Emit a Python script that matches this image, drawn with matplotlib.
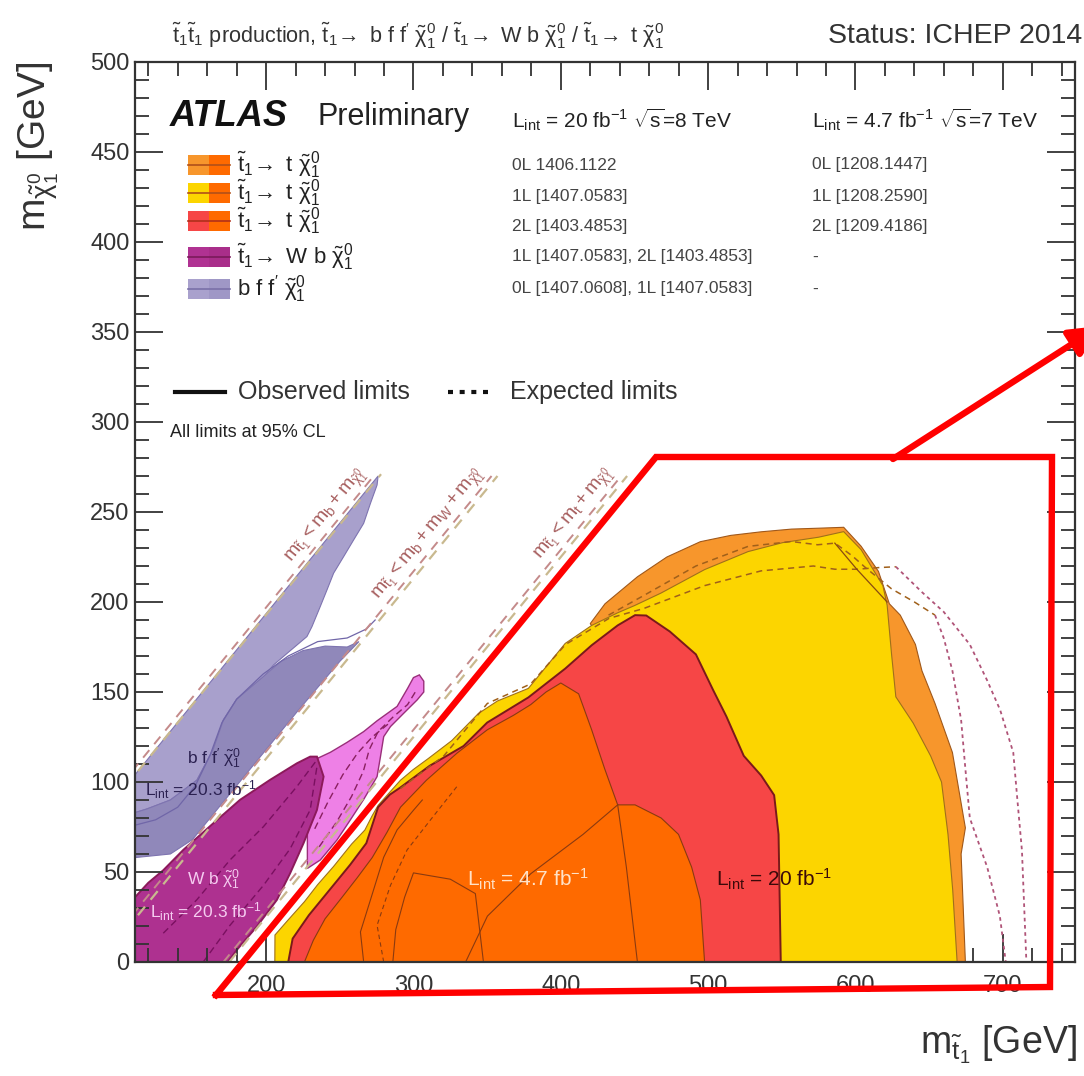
import math
import matplotlib
matplotlib.use("Agg")
import matplotlib.pyplot as plt
from matplotlib.patches import Polygon, Rectangle
from matplotlib.lines import Line2D
from matplotlib.ticker import MultipleLocator

plt.rcParams['font.family'] = ['Liberation Sans', 'DejaVu Sans']
plt.rcParams['mathtext.fontset'] = 'custom'
plt.rcParams['mathtext.rm'] = 'Liberation Sans'
plt.rcParams['mathtext.it'] = 'Liberation Sans'
plt.rcParams['mathtext.bf'] = 'Liberation Sans:bold'

# ---------------- exclusion contours (m_stop, m_LSP) in GeV ----------------
# t~ -> t chi, 0L 8 TeV
t0l_x = [420, 430, 452, 472, 494.7, 515.3, 536.0, 556.6, 575, 592.0, 603.8, 615.6, 623.0,
         630.4, 640.7, 645.1, 654.0, 665.8, 674.6, 671.7, 674.6, 560]
t0l_y = [188, 199, 214, 225, 233.5, 237, 239, 240.5, 241, 241.5, 231, 217, 199,
         192.7, 176.4, 161.8, 143.6, 116.4, 74.5, 60.0, 0, 0]
# t~ -> t chi, 1L 8 TeV
t1l_x = [205.9, 206, 214, 226, 235, 245.7, 258, 267, 272, 276, 284, 291.2, 300, 310, 326, 344,
         357, 378, 391, 403, 421, 438.6, 450, 468.1, 497.6, 527.1, 550.7, 575, 592.0, 603.8,
         618.6, 621.5, 624.5, 627.4, 639.2, 651, 658.4, 662.8, 666, 669]
t1l_y = [0, 15, 22.5, 33.5, 43, 53, 65.5, 73.3, 81.3, 87, 94.4, 101, 107, 113, 123, 138,
         145, 152, 165, 177, 187, 194, 198, 205, 218, 228, 233, 236, 239.1, 229.1,
         209.1, 198.2, 170.9, 147.3, 132.7, 114.5, 100, 70.9, 40, 0]
# t~ -> t chi, 2L 8 TeV
t2l_x = [215, 218, 229, 243, 257, 268, 272, 276, 284, 291.2, 311, 334, 350, 378, 403, 421,
         438.6, 450.4, 458, 474, 491.7, 503.5, 512.4, 524.2, 536, 544.8, 547.8, 549.3]
t2l_y = [0, 13, 26, 40, 54, 66, 76, 86, 93, 97, 109, 120, 133, 147, 163, 176,
         187, 192.7, 192.5, 183.6, 170.9, 150.9, 136.4, 114.5, 103.6, 92.7, 70.9, 0]
# t~ -> t chi, 7 TeV (4.7 fb-1) union
t7_x = [226, 232, 240, 250.6, 262, 272, 282, 291.2, 308.8, 329.5, 350.1, 367.8, 379.6, 390,
        400, 412.1, 420.9, 429.8, 438.6, 450.4, 468.1, 479.9, 488.8, 494.7, 497.6]
t7_y = [0, 12, 24, 35, 47, 58, 72, 86, 101, 116, 129, 137, 143, 150,
        155, 149, 129.1, 107.3, 87.3, 87.3, 80, 70.9, 52.7, 34.5, 0]

# t~ -> W b chi (observed, combined)
wb_x = [111, 111, 120, 130.2, 143.8, 164.2, 182.3, 202.7, 220.9, 229.9, 234.5, 239, 234.5,
        225.4, 216.3, 207.3, 193.7, 180.1, 174]
wb_y = [0, 36, 44, 51, 62.3, 77.1, 90.1, 101.2, 110.4, 114.1, 114.1, 103, 84.5,
        66, 49.3, 34.5, 19.7, 6.7, 0]
# t~ -> W b chi (second analysis)
wb2_x = [228, 236.8, 248.1, 257.2, 266.2, 275.3, 277.6, 279.8, 284.4, 293.4, 302.5, 307, 307,
         304, 300, 296, 288.9, 275.3, 266.2, 254.9, 243.6, 234.5, 228]
wb2_y = [52, 56.7, 67.8, 79, 90.3, 103, 114.1, 125.2, 130.8, 138.2, 145.6, 150, 156,
         159.5, 158, 152, 142, 134, 128, 122, 116.5, 113, 100]

# t~ -> b f f' chi (4-body)
bff_x = [111, 111, 276, 275.3, 270.8, 266.2, 259.4, 252.6, 245.8, 241.3, 236.7, 231.1, 227.7,
         215, 205, 198, 180, 171, 164, 153, 135, 119, 111]
bff_y = [83, 104, 270, 265, 254.8, 243.7, 234.5, 225.2, 216, 206.7, 197.4, 186.3, 180.8,
         172, 165, 158, 146, 134.5, 118, 101, 90, 85, 83]
bff2_x = [111, 119, 135, 153, 164, 171, 180, 198, 210, 225, 240, 255, 263, 250, 221, 198,
          175, 160, 150, 135, 111]
bff2_y = [83, 85, 90, 101, 118, 134.5, 146, 158.5, 167, 173, 175.5, 175, 178, 167, 139, 116,
          93, 78, 68, 60, 58]

# expected / auxiliary contour lines
exp1_x = [291.2, 320.6, 350.1, 379.6, 403.2, 432.7, 456.3, 497.6, 536, 571.4, 586.1, 600.9, 615.6, 627.4]
exp1_y = [96.4, 114.5, 143.6, 154.5, 176.4, 190.9, 196.4, 209.1, 217.3, 220, 218.2, 218.2, 219.1, 219.6]
exp2_x = [432.4, 456.3, 491.7, 527.1, 556.6, 574.3, 586.1, 598, 606.8, 624.5, 640, 654]
exp2_y = [192.7, 203.6, 220, 230.9, 233.6, 231.8, 232.7, 225.5, 219.1, 207.3, 200, 192.7]
exp_out_x = [627.4, 645.1, 659.9, 677.6, 689.4, 698.2, 707.1, 710, 713, 716]
exp_out_y = [219.6, 205.5, 194.5, 176.4, 156.4, 140, 116.4, 89.1, 61.8, 0]
exp_in_x = [654, 659.9, 665.8, 671.7, 674.6, 677.6, 689.4, 698, 702]
exp_in_y = [192.7, 180, 161.8, 134.5, 107.3, 80, 52.7, 25.5, 0]
obs0l_x = [586, 600.9, 621.5]
obs0l_y = [232.7, 218.2, 200]

s7a_x = [266.2, 264, 270.8, 279.8, 288.9, 300.2, 306]
s7a_y = [0, 16.7, 34.5, 58.2, 73.4, 84.5, 90]
s7b_x = [279.8, 275.3, 284.4, 295.7, 311.6, 330]
s7b_y = [0, 20.4, 42.6, 62.3, 79, 98]
s7c_x = [286, 288, 294, 300, 325, 342, 347.5]
s7c_y = [0, 18, 36, 49.5, 46, 38, 0]
s7d_x = [335.4, 350.2, 379.7, 415.1, 438.6]
s7d_y = [0, 25.5, 49.1, 70.9, 87.3]
s7e_x = [438.6, 444.5, 452]
s7e_y = [87.3, 52.7, 0]

wbexp1_x = [130.2, 152.9, 175.5, 198.2, 220.9, 234.5]
wbexp1_y = [16, 34.5, 56.7, 75.2, 97.5, 112.3]
wbexp2_x = [157.3, 175.5, 198.2, 216.3, 229.9, 234.5]
wbexp2_y = [0, 20.4, 42.6, 62.9, 84.5, 108.6]
wb2exp1_x = [236, 248, 258, 266, 270, 276, 286, 296, 302]
wb2exp1_y = [64, 78, 92, 106, 118, 128, 136, 143, 151]
wb2exp2_x = [233, 242, 252, 262, 272, 284]
wb2exp2_y = [74, 89, 104, 116, 125, 133]
bffexp_x = [111, 125, 140, 152, 162, 170, 180, 198, 215, 235, 255, 268, 274]
bffexp_y = [76, 79, 86, 98, 115, 133, 146, 160, 170, 178, 180, 185, 190]

# kinematic boundaries (end points)
kin_x = [[111, 276], [111, 355], [173, 443]]
kin_y = [[106, 271], [26, 270], [0, 270]]
kin_labels = [r'$m_{\tilde{t}_1} < m_b + m_{\tilde{\chi}^0_1}$',
              r'$m_{\tilde{t}_1} < m_b + m_W + m_{\tilde{\chi}^0_1}$',
              r'$m_{\tilde{t}_1} < m_t + m_{\tilde{\chi}^0_1}$']
kin_label_pos = [(272, 269), (351, 269), (439, 269)]

# legend content
leg_labels = [r'$\tilde{t}_1\!\rightarrow$ t $\tilde{\chi}^0_1$',
              r'$\tilde{t}_1\!\rightarrow$ t $\tilde{\chi}^0_1$',
              r'$\tilde{t}_1\!\rightarrow$ t $\tilde{\chi}^0_1$',
              r'$\tilde{t}_1\!\rightarrow$ W b $\tilde{\chi}^0_1$',
              r"b f f$^{\prime}$ $\tilde{\chi}^0_1$"]
refs_8tev = ['0L 1406.1122', '1L [1407.0583]', '2L [1403.4853]',
             '1L [1407.0583], 2L [1403.4853]', '0L [1407.0608], 1L [1407.0583]']
refs_7tev = ['0L [1208.1447]', '1L [1208.2590]', '2L [1209.4186]', '-', '-']

C_0L = '#F7962C'
C_1L = '#FCD500'
C_2L = '#F64646'
C_7 = '#FE6A00'
C_WB = '#AE3190'
C_WB2 = '#EE80E6'
C_BFF = '#A8A0CC'
C_BFF2 = '#9088BA'

leg_left = [C_0L, C_1L, C_2L, '#B03292', '#A9A1CD']
leg_right = [C_7, C_7, C_7, '#A92E8A', '#9F97C6']
leg_line = ['#B0501A', '#B0501A', '#B0301A', '#7A1A5A', '#7A70A8']

# ---------------- figure ----------------
W, H = 1084, 1076
fig = plt.figure(figsize=(W / 100, H / 100), dpi=100)
ax = fig.add_axes([135 / W, 1 - 962 / H, (1075 - 135) / W, (962 - 62) / H])
ax.set_xlim(111, 749)
ax.set_ylim(0, 500)


def region(x, y, fc, ec, lw=0.8, z=1):
    ax.add_patch(Polygon(list(zip(x, y)), closed=True, facecolor=fc, edgecolor=ec,
                         linewidth=lw, zorder=z))


region(bff_x, bff_y, C_BFF, '#7E74B0', 0.8, 1)
region(bff2_x, bff2_y, C_BFF2, '#7E74B0', 0.8, 1.1)
region(wb2_x, wb2_y, C_WB2, '#9A2F7A', 1.0, 1.2)
region(wb_x, wb_y, C_WB, '#8C1A5A', 1.4, 1.3)
region(t0l_x, t0l_y, C_0L, '#A0581A', 0.8, 2)
region(t1l_x, t1l_y, C_1L, '#A0701A', 0.8, 2.1)
region(t2l_x, t2l_y, C_2L, '#7A1A1A', 1.4, 2.2)
region(t7_x, t7_y, C_7, '#8A3A10', 0.8, 2.3)

ax.plot(bffexp_x, bffexp_y, color='#7066A8', lw=0.9, zorder=1.15)
ax.plot(wbexp1_x, wbexp1_y, color='#7A1060', lw=1.0, ls=(0, (5, 3)), zorder=1.35)
ax.plot(wbexp2_x, wbexp2_y, color='#7A1060', lw=1.0, ls=(0, (5, 3)), zorder=1.35)
ax.plot(wb2exp1_x, wb2exp1_y, color='#8A2060', lw=1.0, ls=(0, (5, 3)), zorder=1.25)
ax.plot(wb2exp2_x, wb2exp2_y, color='#8A2060', lw=1.0, ls=(0, (5, 3)), zorder=1.25)

ax.plot(exp1_x, exp1_y, color='#A0601A', lw=1.1, ls=(0, (4, 3)), zorder=2.25)
ax.plot(exp2_x, exp2_y, color='#A0601A', lw=1.1, ls=(0, (4, 3)), zorder=2.25)
ax.plot(exp_out_x, exp_out_y, color='#B05478', lw=1.3, ls=(0, (2, 2)), zorder=2.25)
ax.plot(exp_in_x, exp_in_y, color='#B05478', lw=1.3, ls=(0, (2, 2)), zorder=2.25)
ax.plot(obs0l_x, obs0l_y, color='#8A4A10', lw=0.9, zorder=2.25)
for sx, sy, ls in [(s7a_x, s7a_y, '-'), (s7b_x, s7b_y, (0, (4, 3))), (s7c_x, s7c_y, '-'),
                   (s7d_x, s7d_y, '-'), (s7e_x, s7e_y, '-')]:
    ax.plot(sx, sy, color='#8A3A10', lw=0.8, ls=ls, zorder=2.4)

for kx, ky in zip(kin_x, kin_y):
    ax.plot([kx[0] + 2, kx[1] + 2], ky, color='#C9B98F', lw=1.6, ls=(0, (5, 4)), zorder=3)
    ax.plot([kx[0] - 2, kx[1] - 2], ky, color='#C48A8A', lw=1.4, ls=(0, (5, 4)), zorder=3)

p1 = ax.transData.transform((200, 100))
p2 = ax.transData.transform((300, 200))
ang = math.degrees(math.atan2(p2[1] - p1[1], p2[0] - p1[0]))
for lab, (lx, ly) in zip(kin_labels, kin_label_pos):
    ax.text(lx, ly, lab, rotation=ang, rotation_mode='anchor', ha='right', va='bottom',
            color='#A86060', fontsize=14, zorder=4)

ax.text(146, 113, r"b f f$^{\prime}$ $\tilde{\chi}^0_1$", color='#2A2050', fontsize=12.5,
        va='center', zorder=4)
ax.text(118, 95.6, r'L$_{\rm int}$ = 20.3 fb$^{-1}$', color='#2A2050', fontsize=12.5,
        va='center', zorder=4)
ax.text(146, 45.6, r'W b $\tilde{\chi}^0_1$', color='#F5CCF0', fontsize=12.5, va='center', zorder=4)
ax.text(121, 27.8, r'L$_{\rm int}$ = 20.3 fb$^{-1}$', color='#F5CCF0', fontsize=12.5,
        va='center', zorder=4)
ax.text(336, 46, r'L$_{\rm int}$ = 4.7 fb$^{-1}$', color='#FFE2C8', fontsize=15,
        va='center', zorder=4)
ax.text(505, 46, r'L$_{\rm int}$ = 20 fb$^{-1}$', color='#3A0A0A', fontsize=15,
        va='center', zorder=4)

# axes styling (ROOT-like)
ax.xaxis.set_major_locator(MultipleLocator(100))
ax.xaxis.set_minor_locator(MultipleLocator(20))
ax.yaxis.set_major_locator(MultipleLocator(50))
ax.yaxis.set_minor_locator(MultipleLocator(10))
ax.tick_params(which='both', direction='in', top=True, right=True, width=1.3, colors='#333333',
               labelsize=17, labelcolor='#333333')
ax.tick_params(which='major', length=20)
ax.tick_params(which='minor', length=10)
ax.tick_params(axis='x', pad=9)
ax.tick_params(axis='y', pad=4)
for s in ax.spines.values():
    s.set_linewidth(1.6)
    s.set_color('#333333')
    s.set_zorder(5)


def fx(px):
    return px / W


def fy(py):
    return 1 - py / H


fig.text(fx(38), fy(62), r'm$_{\tilde{\chi}^0_1}$ [GeV]', rotation=90, ha='center', va='top',
         fontsize=28, color='#333333')
fig.text(fx(1077), fy(1045), r'm$_{\tilde{t}_1}$ [GeV]', ha='right', va='center',
         fontsize=27, color='#333333')
fig.text(fx(172), fy(36), r'$\tilde{t}_1\tilde{t}_1$ production, $\tilde{t}_1\!\rightarrow$ b f f$^{\prime}$ '
         r'$\tilde{\chi}^0_1$ / $\tilde{t}_1\!\rightarrow$ W b $\tilde{\chi}^0_1$ / '
         r'$\tilde{t}_1\!\rightarrow$ t $\tilde{\chi}^0_1$', ha='left', va='center', fontsize=15.6,
         color='#333333')
fig.text(fx(828), fy(36), 'Status: ICHEP 2014', ha='left', va='center', fontsize=20.5,
         color='#333333')

fig.text(fx(170), fy(117), 'ATLAS', fontsize=26, fontweight='bold', fontstyle='italic',
         ha='left', va='center', color='#111111')
fig.text(fx(318), fy(117), 'Preliminary', fontsize=22, ha='left', va='center', color='#222222')
fig.text(fx(512), fy(120), r'L$_{\rm int}$ = 20 fb$^{-1}$ $\sqrt{s}$=8 TeV', fontsize=15,
         ha='left', va='center', color='#222222')
fig.text(fx(812), fy(120), r'L$_{\rm int}$ = 4.7 fb$^{-1}$ $\sqrt{s}$=7 TeV', fontsize=15,
         ha='left', va='center', color='#222222')

rows_y = [165, 193, 221, 257, 289]
refs_y = [165, 196, 227, 257, 289]
for i in range(5):
    yc = rows_y[i]
    fig.add_artist(Rectangle((fx(188), fy(yc + 10)), 21 / W, 20 / H, transform=fig.transFigure,
                             facecolor=leg_left[i], edgecolor='none'))
    fig.add_artist(Rectangle((fx(209), fy(yc + 10)), 21 / W, 20 / H, transform=fig.transFigure,
                             facecolor=leg_right[i], edgecolor='none'))
    fig.add_artist(Line2D([fx(188), fx(230)], [fy(yc), fy(yc)], transform=fig.transFigure,
                          color=leg_line[i], lw=1.2))
    fig.text(fx(237), fy(yc), leg_labels[i], fontsize=16, ha='left', va='center',
             color='#222222')
    fig.text(fx(512), fy(refs_y[i]), refs_8tev[i], fontsize=12.5, ha='left', va='center',
             color='#444444')
    fig.text(fx(812), fy(refs_y[i]), refs_7tev[i], fontsize=12.5, ha='left', va='center',
             color='#444444')

fig.add_artist(Line2D([fx(175), fx(225)], [fy(392), fy(392)], transform=fig.transFigure,
                      color='#111111', lw=3))
fig.text(fx(238), fy(392), 'Observed limits', fontsize=18, ha='left', va='center',
         color='#333333')
fig.add_artist(Line2D([fx(448), fx(494)], [fy(392), fy(392)], transform=fig.transFigure,
                      color='#111111', lw=3, ls=(0, (1.2, 1.6))))
fig.text(fx(510), fy(392), 'Expected limits', fontsize=18, ha='left', va='center',
         color='#333333')
fig.text(fx(170), fy(433), 'All limits at 95% CL', fontsize=13, ha='left', va='center',
         color='#222222')

# highlight frame and arrow
frame_px = [(216, 995), (656, 457), (1052, 457), (1050, 987), (216, 995)]
fig.add_artist(Line2D([fx(p[0]) for p in frame_px], [fy(p[1]) for p in frame_px],
                      transform=fig.transFigure, color='#FF0000', lw=4.6,
                      solid_joinstyle='miter', zorder=10))
ax.annotate('', xy=(1100, H - 326), xytext=(893, H - 459), xycoords='figure pixels',
            textcoords='figure pixels',
            arrowprops=dict(arrowstyle='-|>', color='#FF0000', lw=4.6, mutation_scale=45,
                            shrinkA=0, shrinkB=0), annotation_clip=False, zorder=10)

fig.savefig('out.png', dpi=100)
